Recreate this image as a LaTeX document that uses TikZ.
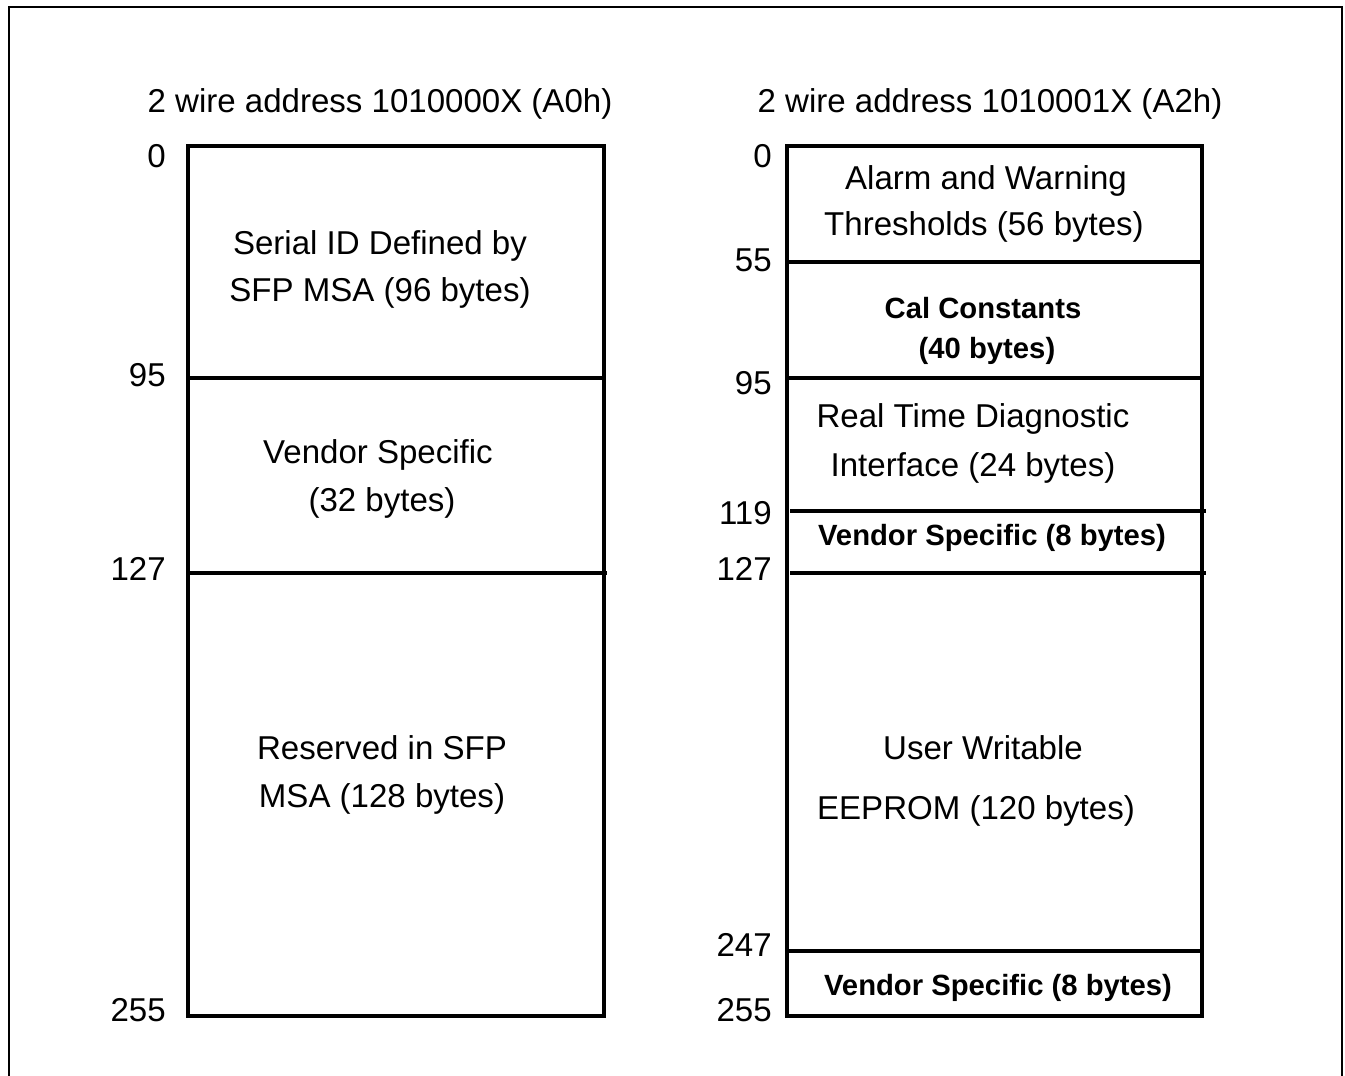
\documentclass[tikz,border=0pt]{standalone}
\usepackage{fontspec}
\setmainfont{Liberation Sans}
\tikzset{
  txt/.style={font=\fontsize{23.5}{28}\selectfont, inner sep=0pt, yshift=-2pt},
  boldtxt/.style={font=\fontsize{20.8}{24}\selectfont\bfseries, inner sep=0pt, yshift=-2pt},
  addr/.style={txt, anchor=east},
  mapline/.style={line width=2.2pt}
}
\begin{document}
\begin{tikzpicture}[x=0.025cm, y=-0.025cm]
  \useasboundingbox (0,0) rectangle (1345,1076);
  % outer frame, open at the bottom
  \draw[line width=2pt] (9,1076) -- (9,7) -- (1342,7) -- (1342,1076);

  % A0h page
  \begin{scope}
    \node[txt] (titleA) at (380,101) {2 wire address 1010000X (A0h)};
    \draw[mapline] (188,146) rectangle (604,1016);
    \draw[mapline] (188,378) -- (604,378);
    \draw[mapline] (188,573) -- (607,573);
    \foreach \y/\num in {153/0, 372/95, 566/127, 1007/255} {
      \node[addr] (numA\num) at (166,\y) {\num};
    }
    \node[txt] (serialA) at (380,243) {Serial ID Defined by};
    \node[txt] (serialB) at (380,290) {SFP MSA (96 bytes)};
    \node[txt] (vendorA) at (378,452) {Vendor Specific};
    \node[txt] (vendorB) at (382,500) {(32 bytes)};
    \node[txt] (resA) at (382,745) {Reserved in SFP};
    \node[txt] (resB) at (382,796) {MSA (128 bytes)};
  \end{scope}

  % A2h page
  \begin{scope}
    \node[txt] (titleB) at (990,101) {2 wire address 1010001X (A2h)};
    \draw[mapline] (787,146) rectangle (1202,1016);
    \foreach \y/\xa/\xb in {262/787/1202, 378/787/1202, 511/790/1206, 573/790/1206, 951/787/1202} {
      \draw[mapline] (\xa,\y) -- (\xb,\y);
    }
    \foreach \y/\num in {153/0, 257/55, 380/95, 510/119, 566/127, 942/247, 1007/255} {
      \node[addr] (numB\num) at (772,\y) {\num};
    }
    \node[txt] (alarmA) at (986,178) {Alarm and Warning};
    \node[txt] (alarmB) at (984,224) {Thresholds (56 bytes)};
    \node[boldtxt] (calA) at (983,305) {Cal Constants};
    \node[boldtxt] (calB) at (987,348) {(40 bytes)};
    \node[txt] (diagA) at (973,416) {Real Time Diagnostic};
    \node[txt] (diagB) at (973,465) {Interface (24 bytes)};
    \node[boldtxt] (vsA) at (992,535) {Vendor Specific (8 bytes)};
    \node[txt] (userA) at (983,745) {User Writable};
    \node[txt] (userB) at (976,808) {EEPROM (120 bytes)};
    \node[boldtxt] (vsB) at (998,985) {Vendor Specific (8 bytes)};
  \end{scope}
\end{tikzpicture}
\end{document}
